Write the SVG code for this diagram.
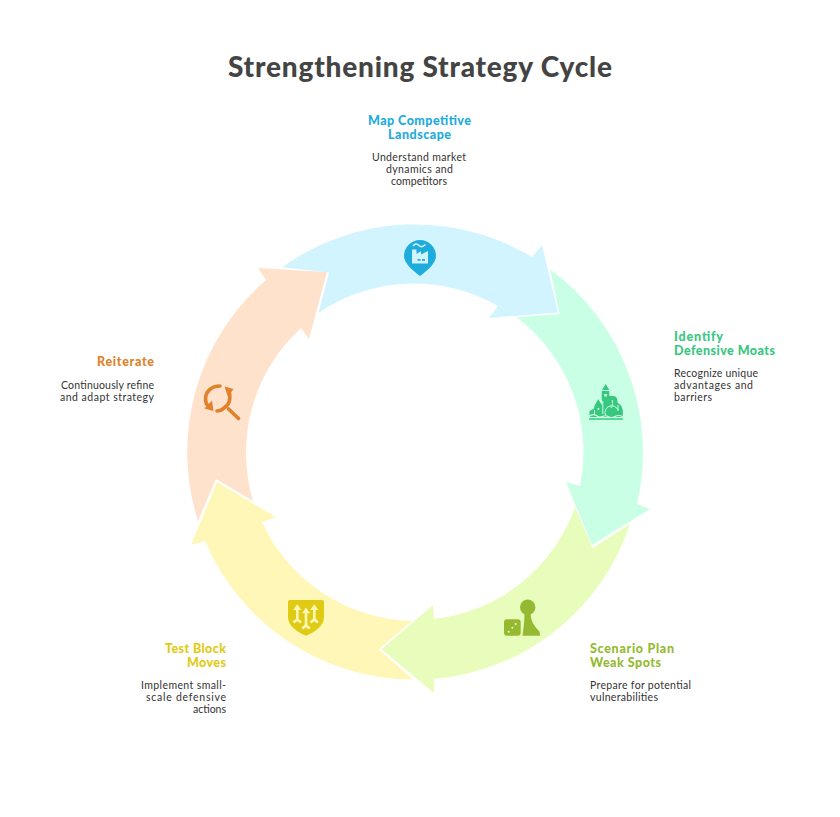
<svg xmlns="http://www.w3.org/2000/svg" width="840" height="817" viewBox="0 0 840 817">
<style>
text{font-family:"Lato","Noto Sans","Liberation Sans",sans-serif}
.title{font-size:28px;font-weight:900;fill:#444;text-anchor:middle}
.h{font-size:12.5px;font-weight:900}
.d{font-size:10.5px;fill:#333}
.m{text-anchor:middle}.e{text-anchor:end}
.blue{fill:#1EACDD}.green{fill:#38C77F}.lime{fill:#95BA32}.yellow{fill:#E0CB14}.orange{fill:#E0812C}
</style>
<rect width="840" height="817" fill="#fff"/>
<text class="title" x="420" y="77" textLength="384" lengthAdjust="spacing">Strengthening Strategy Cycle</text>
<g id="connectors">
<path fill="#D2F4FF" d="M282 267.3A227 227 0 0 1 532 257L542 245L558 312.5L489 318L498 306A169 169 0 0 0 318.5 313L329 272.5Z"/>
<path fill="#C8FFE5" d="M550 269.3A227 227 0 0 1 637 504L650 509L592 545L566 482L580 486A169 169 0 0 0 516.7 317.3L559.7 314Z"/>
<path fill="#E8FDBB" d="M630 524A227 227 0 0 1 434 679L434 693L381.5 649.3L433 605L434 619A169 169 0 0 0 575 507L592.5 548Z"/>
<path fill="#FFF7B8" d="M413 679.5A227 227 0 0 1 205 541L191 545L217 482L276 517L262 522A169 169 0 0 0 412 621L378.7 649.3Z"/>
<path fill="#FFE2CC" d="M198 521A227 227 0 0 1 266 280L258 268L327 272L309 339L301 328A169 169 0 0 0 253 501L216 479Z"/>
</g>
<g id="node-map">
<path class="blue" d="M404 256A16 16 0 0 1 436 256C436 263 428 270 420 276C412 270 404 263 404 256Z"/>
<path fill="#D2F4FF" d="M412 263.5V249.5H416.5V254L421 251V254.5L428 251V263.5Z"/>
<path fill="none" stroke="#D2F4FF" stroke-width="1.6" d="M413 246C415 243.5 417 243.5 419 245.5C421 247.5 423 247 425.5 244.5"/>
<path class="blue" d="M417.5 259h3v1.8h-3zM422 259h3v1.8h-3z"/>
<text class="h blue m" x="419.5" y="124.5" textLength="103">Map Competitive</text>
<text class="h blue m" x="419.5" y="138.5" textLength="63">Landscape</text>
<text class="d m" x="419" y="160.5" textLength="94">Understand market</text>
<text class="d m" x="419.5" y="172.5" textLength="67">dynamics and</text>
<text class="d m" x="419" y="184.5" textLength="56">competitors</text>
</g>
<g id="node-moats">
<path class="green" d="M605.7 384L609.3 390H602ZM601.7 391H609.3V396H613C616 396 617.5 398 617.5 402.5L621 405.5L622.8 410V417H589.5V411L594 408.5L594.5 405.5L598.3 399.3L602 405V400H601.7Z"/>
<path fill="#C8FFE5" d="M604.3 394h2.6v2.6h-2.6zM597.6 408h1.6v2h-1.6z"/>
<path fill="none" stroke="#C8FFE5" stroke-width="1" d="M602.8 401V414M612 400C613 402 613 405 611 408M594.5 410V415M618 405V411M605.5 415A6.5 6.5 0 0 1 618 410"/>
<path fill="none" stroke="#C8FFE5" stroke-width="1.1" d="M589 416.5C592 414 595 414 598 416.5C601 418.5 604 414.5 607 416C610 418 613 418 616 416C618 415 620 415.5 623 416.5"/>
<path class="green" d="M589 418.3H622.8V419.8H589Z"/>
<text class="h green" x="674" y="340.5" textLength="49">Identify</text>
<text class="h green" x="674" y="354.5" textLength="101">Defensive Moats</text>
<text class="d" x="674" y="376.5" textLength="84">Recognize unique</text>
<text class="d" x="674" y="388.5" textLength="79">advantages and</text>
<text class="d" x="674" y="400.5" textLength="38">barriers</text>
</g>
<g id="node-scenario">
<circle class="lime" cx="527.7" cy="607.3" r="7.7"/>
<path class="lime" d="M524.5 613H530.5C531 622 534 625 538 630C540 632 540 633 540 635.7H522.5C523.5 628 524.5 622 524.5 613Z"/>
<rect class="lime" x="504" y="619.3" width="16.7" height="16.4" rx="3"/>
<g fill="#E8FDBB"><circle cx="508.7" cy="631.7" r="1"/><circle cx="512.3" cy="627.7" r="1"/><circle cx="515.7" cy="624" r="1"/></g>
<text class="h lime" x="590" y="652.5" textLength="84">Scenario Plan</text>
<text class="h lime" x="590" y="666.5" textLength="71">Weak Spots</text>
<text class="d" x="590" y="688.5" textLength="101">Prepare for potential</text>
<text class="d" x="590" y="700.5" textLength="68">vulnerabilities</text>
</g>
<g id="node-test">
<path class="yellow" d="M290 600H322A2 2 0 0 1 324 602V617C324 626 315 632 306 635.7C297 632 288 626 288 617V602A2 2 0 0 1 290 600Z"/>
<g fill="none" stroke="#FFF7B8" stroke-width="2.6"><path d="M297.3 607V621M306 610V627M314.3 607V621"/><path d="M293.5 622.5L297.3 619.5L301 622.5M302.2 628.5L306 625.5L309.8 628.5M310.5 622.5L314.3 619.5L318 622.5"/></g>
<path fill="#FFF7B8" d="M297.3 604.2L301.3 610H293.3ZM306 607.5L310 613.3H302ZM314.3 604.2L318.3 610H310.3Z"/>
<text class="h yellow e" x="226" y="652.5" textLength="61">Test Block</text>
<text class="h yellow e" x="226" y="666.5" textLength="39">Moves</text>
<text class="d e" x="226" y="688.5" textLength="85">Implement small-</text>
<text class="d e" x="226" y="700.5" textLength="80">scale defensive</text>
<text class="d e" x="226" y="712.5" textLength="33">actions</text>
</g>
<g id="node-reiterate">
<g fill="none" stroke="#E0812C" stroke-width="3.6" stroke-linecap="round"><path d="M220 386C211 386 205.5 392 205.5 399C205.5 402 206.5 404.5 208 406"/><path d="M229 391C231 399 229 405 224 408C222 410 219 411 217 411"/><path d="M228.5 409L238.5 418.5"/></g>
<path class="orange" d="M204.5 408.5L213.5 411L212 400.5ZM224.5 386.5L233.5 389L228 397Z"/>
<text class="h orange e" x="154" y="365.5" textLength="57">Reiterate</text>
<text class="d e" x="154" y="388.5" textLength="93">Continuously refine</text>
<text class="d e" x="154" y="400.5" textLength="94">and adapt strategy</text>
</g>
</svg>
